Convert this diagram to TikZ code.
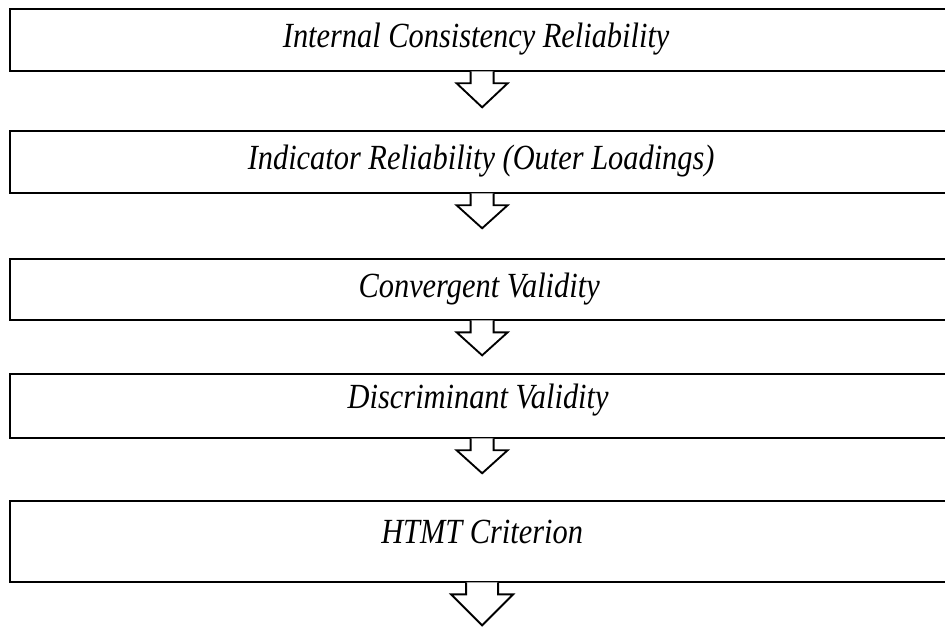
\documentclass[tikz,border=0pt]{standalone}
\usepackage{fontspec}
\setmainfont{Liberation Serif}[FakeStretch=0.86]
\usepackage{tikz}
\usetikzlibrary{calc}

\begin{document}
\begin{tikzpicture}[x=0.75pt,y=-0.75pt]
\tikzstyle{stepbox}=[draw=black, line width=1.7pt, anchor=north west, minimum width=708pt, inner sep=0pt]
\tikzstyle{steptext}=[font=\fontsize{26.5}{30}\selectfont\itshape, inner sep=0pt]
\tikzstyle{blockarrow}=[draw=black, fill=white, line width=1.4pt, line join=miter]
\useasboundingbox (0,0) rectangle (945,626);
\node [stepbox, minimum height=46.9pt] (b1) at (9,7.5) {};
\node [steptext] (t1) at ($(b1.north)+(-6,32)$) {Internal Consistency Reliability};
\node [stepbox, minimum height=46.5pt] (b2) at (9,130) {};
\node [steptext] (t2) at ($(b2.north)+(-1,31.5)$) {Indicator Reliability (Outer Loadings)};
\node [stepbox, minimum height=45.8pt] (b3) at (9,258) {};
\node [steptext] (t3) at ($(b3.north)+(-3,31)$) {Convergent Validity};
\node [stepbox, minimum height=48pt] (b4) at (9,373) {};
\node [steptext] (t4) at ($(b4.north)+(-4,27)$) {Discriminant Validity};
\node [stepbox, minimum height=60.8pt] (b5) at (9,500) {};
\node [steptext] (t5) at ($(b5.north)+(0,32)$) {HTMT Criterion};
% block arrows hanging under each box
\filldraw [blockarrow, shift={(b1.south)}] (-11.5,-1) -- (-11.5,11) -- (-25.5,11) -- (0,35) -- (25.5,11) -- (11.5,11) -- (11.5,-1);
\filldraw [blockarrow, shift={(b2.south)}] (-11.5,-1) -- (-11.5,11) -- (-25.5,11) -- (0,34) -- (25.5,11) -- (11.5,11) -- (11.5,-1);
\filldraw [blockarrow, shift={(b3.south)}] (-11.5,-1) -- (-11.5,11) -- (-25.5,11) -- (0,34) -- (25.5,11) -- (11.5,11) -- (11.5,-1);
\filldraw [blockarrow, shift={(b4.south)}] (-11.5,-1) -- (-11.5,11) -- (-25.5,11) -- (0,34) -- (25.5,11) -- (11.5,11) -- (11.5,-1);
\filldraw [blockarrow, shift={(b5.south)}] (-16,-1) -- (-16,11) -- (-31,11) -- (0,42) -- (31,11) -- (16,11) -- (16,-1);
\end{tikzpicture}
\end{document}
